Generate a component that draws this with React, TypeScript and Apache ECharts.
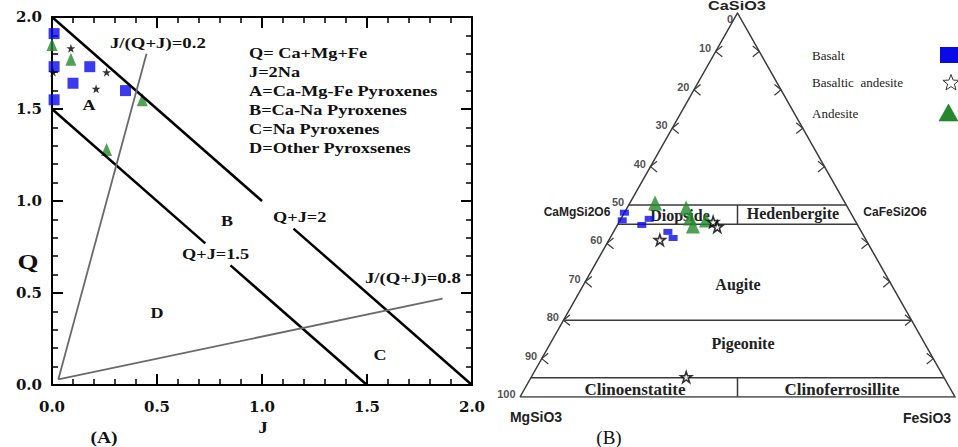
import React, { useEffect, useRef } from "react";
import * as echarts from "echarts";

// ---------- Panel A (Q-J diagram) ----------
const qjTickLabels = ["0.0", "0.5", "1.0", "1.5", "2.0"];

// [J, Q]
const basaltJQ = [[0.01, 1.91], [0.01, 1.73], [0.18, 1.73], [0.10, 1.64], [0.01, 1.55], [0.35, 1.60]];
const basalticAndesiteJQ = [[0.09, 1.83], [0.005, 1.70], [0.26, 1.70], [0.21, 1.61]];
const andesiteJQ = [[0.0, 1.85], [0.09, 1.77], [0.43, 1.55], [0.26, 1.28]];

// boundary lines [J, Q]
const lineQJ2a = [[0, 2], [1.0, 1.0]];
const lineQJ2b = [[1.15, 0.85], [2, 0]];
const lineQJ15a = [[0, 1.5], [0.73, 0.77]];
const lineQJ15b = [[0.85, 0.65], [1.5, 0]];
const ratio02 = [[0.03, 0.03], [0.45, 1.8]];
const ratio08 = [[0.03, 0.03], [1.86, 0.47]];

// ---------- Panel B (Wo-En-Fs ternary) ----------
// [Wo, En, Fs] in %
const basaltWEF = [[48, 52, 0], [46, 53.5, 0.5], [44.8, 49.6, 5.6], [46.4, 47.1, 6.5], [43, 44.5, 12.5], [41.4, 44.1, 14.5]];
const basalticAndesiteWEF = [[45.6, 32.8, 21.6], [44.3, 32.5, 23.2], [40.9, 47.4, 11.7], [5.2, 59.2, 35.6]];
const andesiteWEF = [[50.5, 43.7, 5.8], [49.2, 37.2, 13.6], [46.6, 37.6, 15.8], [44.5, 38, 17.5], [46.1, 34.2, 19.7]];

const ternaryTickLabels = ["0", "10", "20", "30", "40", "50", "60", "70", "80", "90", "100"];
const chevronWoLevels = [90, 80, 70, 60, 40, 30, 20, 10];
const fieldBoundaryWo = [50, 45, 20, 5];
const dividerWoRanges = [[45, 50], [0, 5]];

const BLUE = "#0a0ae8";
const GREEN = "#23892b";
const STAR = "path://M50 0 L61.8 35.1 L98.9 35.1 L68.9 56.8 L80.3 91.9 L50 70.2 L19.7 91.9 L31.1 56.8 L1.1 35.1 L38.2 35.1 Z";

const toXY = (wo: number, fs: number) => [fs + wo / 2, wo];

const txt = (text: string, x: number, y: number, o: any = {}) => ({
  type: "text",
  x,
  y,
  scaleX: o.sx ?? 1,
  z: 1,
  silent: true,
  style: {
    text,
    fill: o.color ?? "#111",
    fontSize: o.size ?? 15,
    fontFamily: o.family ?? "Liberation Serif",
    fontWeight: o.weight ?? "bold",
    align: o.align ?? "left",
    verticalAlign: "middle",
  },
});

const starPts = (cx: number, cy: number, R: number, r: number) => {
  const pts: number[][] = [];
  for (let i = 0; i < 10; i++) {
    const a = -Math.PI / 2 + (i * Math.PI) / 5;
    const rad = i % 2 === 0 ? R : r;
    pts.push([cx + rad * Math.cos(a), cy + rad * Math.sin(a)]);
  }
  return pts;
};

const qjAxisCommon = (showLabel: boolean) => ({
  type: "value",
  min: 0,
  max: 2,
  interval: 0.5,
  axisLine: { show: true, onZero: false, lineStyle: { color: "#000", width: 2 } },
  axisTick: { show: true, inside: true, length: 11, lineStyle: { color: "#000", width: 2 } },
  minorTick: { show: true, splitNumber: 5, length: 6, lineStyle: { color: "#000", width: 1.5 } },
  splitLine: { show: false },
  minorSplitLine: { show: false },
  axisLabel: {
    show: showLabel,
    fontFamily: "DejaVu Serif",
    fontWeight: "bold",
    fontSize: 15,
    color: "#111",
    formatter: (v: number) => qjTickLabels[Math.round(v / 0.5)] ?? "",
  },
});

const lineSeries = (data: number[][], color: string, width: number) => ({
  type: "line",
  xAxisIndex: 0,
  yAxisIndex: 0,
  data,
  symbol: "none",
  silent: true,
  lineStyle: { color, width },
});

const triangleCoords = [toXY(0, 0), toXY(0, 100), toXY(100, 0), toXY(0, 0)];
const ternaryLines: any[] = [{ coords: triangleCoords }];
fieldBoundaryWo.forEach((w) => ternaryLines.push({ coords: [toXY(w, 0), toXY(w, 100 - w)] }));
dividerWoRanges.forEach(([a, b]) => ternaryLines.push({ coords: [[50, a], [50, b]] }));
const chevrons: any[] = [];
chevronWoLevels.forEach((w) => {
  const [lx, ly] = toXY(w, 0);
  chevrons.push({ coords: [[lx + 1.5, ly + 1.4], [lx, ly], [lx + 1.5, ly - 1.4]] });
  const [rx, ry] = toXY(w, 100 - w);
  chevrons.push({ coords: [[rx - 1.5, ry + 1.4], [rx, ry], [rx - 1.5, ry - 1.4]] });
});

const option: any = {
  animation: false,
  backgroundColor: "#ffffff",
  grid: [
    { left: 52, top: 17, width: 420, height: 368, outerBoundsMode: "none" },
    { left: 520, top: 13, width: 435, height: 384, outerBoundsMode: "none" },
  ],
  xAxis: [
    { ...qjAxisCommon(true), gridIndex: 0, position: "bottom", axisLabel: { ...qjAxisCommon(true).axisLabel, margin: 14 } },
    { ...qjAxisCommon(false), gridIndex: 0, position: "top" },
    { gridIndex: 1, type: "value", min: 0, max: 100, show: false },
  ],
  yAxis: [
    { ...qjAxisCommon(true), gridIndex: 0, position: "left", axisLabel: { ...qjAxisCommon(true).axisLabel, margin: 10 } },
    { ...qjAxisCommon(false), gridIndex: 0, position: "right" },
    { gridIndex: 1, type: "value", min: 0, max: 100, show: false },
  ],
  graphic: [
    // Panel A annotations
    txt("J/(Q+J)=0.2", 110, 43, { sx: 1.25 }),
    txt("Q= Ca+Mg+Fe", 249, 53, { sx: 1.22 }),
    txt("J=2Na", 249, 72, { sx: 1.22 }),
    txt("A=Ca-Mg-Fe Pyroxenes", 249, 91, { sx: 1.22 }),
    txt("B=Ca-Na Pyroxenes", 249, 110, { sx: 1.22 }),
    txt("C=Na Pyroxenes", 249, 129, { sx: 1.22 }),
    txt("D=Other Pyroxsenes", 249, 148, { sx: 1.22 }),
    txt("Q+J=2", 273, 217, { sx: 1.22 }),
    txt("Q+J=1.5", 182, 254, { sx: 1.22 }),
    txt("J/(Q+J)=0.8", 365, 278, { sx: 1.25 }),
    txt("A", 89, 105, { align: "center", sx: 1.2 }),
    txt("B", 227, 221, { align: "center", sx: 1.2 }),
    txt("C", 380, 355, { align: "center", sx: 1.2 }),
    txt("D", 157, 313, { align: "center", sx: 1.2 }),
    txt("Q", 28, 262, { align: "center", size: 20, sx: 1.35 }),
    txt("J", 263, 428, { align: "center", size: 16, sx: 1.2 }),
    txt("(A)", 104, 437, { align: "center", size: 17, sx: 1.15 }),
    // Panel B annotations
    txt("CaSiO3", 737, 6, { align: "center", size: 13, family: "Liberation Sans", color: "#222", sx: 1.25 }),
    txt("MgSiO3", 536, 417, { align: "center", size: 14, family: "Liberation Sans", color: "#222" }),
    txt("FeSiO3", 927, 418, { align: "center", size: 14, family: "Liberation Sans", color: "#222" }),
    txt("CaMgSi2O6", 577, 212, { align: "center", size: 12, family: "Liberation Sans", color: "#222" }),
    txt("CaFeSi2O6", 895, 212, { align: "center", size: 12, family: "Liberation Sans", color: "#222" }),
    txt("Diopside", 680, 215, { align: "center", size: 16, color: "#222" }),
    txt("Hedenbergite", 793, 213, { align: "center", size: 16, color: "#222" }),
    txt("Augite", 738, 284, { align: "center", size: 16, color: "#222" }),
    txt("Pigeonite", 743, 343, { align: "center", size: 16, color: "#222" }),
    txt("Clinoenstatite", 635, 389, { align: "center", size: 17, color: "#222" }),
    txt("Clinoferrosillite", 842, 389, { align: "center", size: 17, color: "#222" }),
    txt("Basalt", 812, 55, { size: 13, weight: "normal", color: "#222" }),
    txt("Basaltic  andesite", 812, 82, { size: 13, weight: "normal", color: "#222" }),
    txt("Andesite", 812, 113, { size: 13, weight: "normal", color: "#222" }),
    txt("(B)", 609, 437, { align: "center", size: 19, weight: "normal", color: "#111" }),
    { type: "rect", z: 1, silent: true, shape: { x: 940, y: 47, width: 20, height: 16 }, style: { fill: BLUE } },
    { type: "polygon", z: 1, silent: true, shape: { points: starPts(951, 83, 8.5, 3.6) }, style: { fill: "#fff", stroke: "#333", lineWidth: 1 } },
    { type: "polygon", z: 1, silent: true, shape: { points: [[939, 121], [958, 121], [948.5, 104]] }, style: { fill: GREEN, stroke: "#1d6d22", lineWidth: 0.5 } },
  ],
  series: [
    lineSeries(lineQJ2a, "#000", 2.5),
    lineSeries(lineQJ2b, "#000", 2.5),
    lineSeries(lineQJ15a, "#000", 2.5),
    lineSeries(lineQJ15b, "#000", 2.5),
    lineSeries(ratio02, "#6a6a6a", 1.8),
    lineSeries(ratio08, "#6a6a6a", 1.8),
    {
      type: "scatter", name: "Basalt", xAxisIndex: 0, yAxisIndex: 0, data: basaltJQ,
      symbol: "rect", symbolSize: 11, itemStyle: { color: BLUE }, silent: true,
    },
    {
      type: "scatter", name: "Basaltic andesite", xAxisIndex: 0, yAxisIndex: 0, data: basalticAndesiteJQ,
      symbol: STAR, symbolSize: 9, itemStyle: { color: "#000" }, silent: true,
    },
    {
      type: "scatter", name: "Andesite", xAxisIndex: 0, yAxisIndex: 0, data: andesiteJQ,
      symbol: "triangle", symbolSize: [11, 13], itemStyle: { color: GREEN }, silent: true,
    },
    // Ternary frame
    {
      type: "lines", coordinateSystem: "cartesian2d", xAxisIndex: 2, yAxisIndex: 2, polyline: true,
      data: ternaryLines, silent: true, lineStyle: { color: "#3a3a3a", width: 1.5, opacity: 1 },
    },
    {
      type: "lines", coordinateSystem: "cartesian2d", xAxisIndex: 2, yAxisIndex: 2, polyline: true,
      data: chevrons, silent: true, lineStyle: { color: "#3a3a3a", width: 1.2, opacity: 1 },
    },
    {
      type: "scatter", xAxisIndex: 2, yAxisIndex: 2, symbolSize: 1, itemStyle: { color: "rgba(0,0,0,0)" }, silent: true,
      data: ternaryTickLabels.map((t, i) =>
        i === 0
          ? { value: toXY(100, 0), name: t, label: { offset: [0, 6] } }
          : { value: toXY(100 - i * 10, 0), name: t }
      ),
      label: {
        show: true, position: "left", distance: 4, offset: [0, -3], formatter: (p: any) => p.name,
        fontFamily: "Liberation Sans", fontWeight: "bold", fontSize: 11, color: "#222",
      },
    },
    {
      type: "scatter", xAxisIndex: 2, yAxisIndex: 2, silent: true,
      data: basaltWEF.map(([wo, , fs]) => toXY(wo, fs)),
      symbol: "rect", symbolSize: [9, 6], itemStyle: { color: BLUE },
    },
    {
      type: "scatter", xAxisIndex: 2, yAxisIndex: 2, silent: true,
      data: andesiteWEF.map(([wo, , fs]) => toXY(wo, fs)),
      symbol: "triangle", symbolSize: [14, 15], itemStyle: { color: GREEN },
    },
    {
      type: "scatter", xAxisIndex: 2, yAxisIndex: 2, silent: true,
      data: basalticAndesiteWEF.map(([wo, , fs]) => toXY(wo, fs)),
      symbol: STAR, symbolSize: 11, itemStyle: { color: "#fff", borderColor: "#000", borderWidth: 1.6 },
    },
  ],
};

export default function App() {
  const ref = useRef<HTMLDivElement>(null);
  useEffect(() => {
    const chart = echarts.init(ref.current!, null, { renderer: "svg", width: 958, height: 447 });
    chart.setOption(option);
    return () => chart.dispose();
  }, []);
  return <div ref={ref} style={{ position: "fixed", left: 0, top: 0, width: 958, height: 447 }} />;
}
